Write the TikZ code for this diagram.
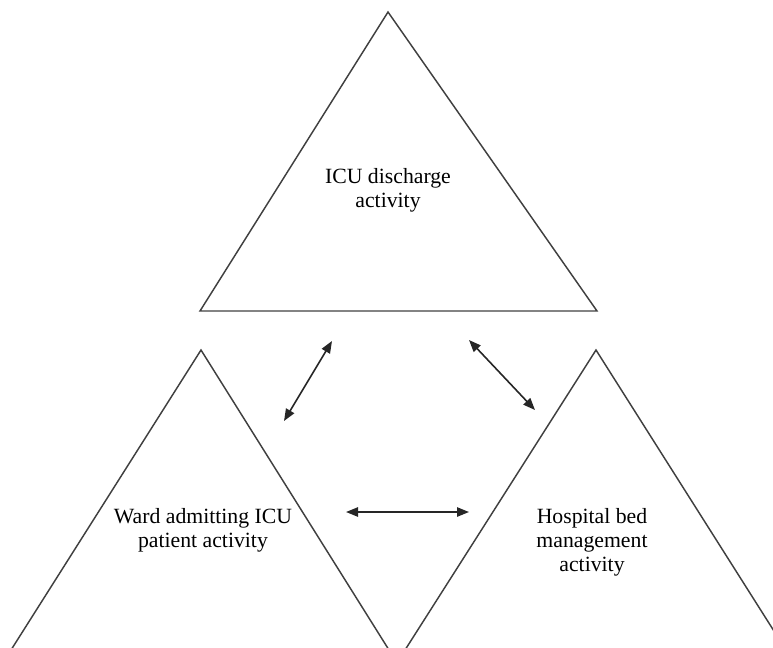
\documentclass[tikz,border=0pt]{standalone}
\usepackage{fontspec}
\setmainfont{Liberation Serif}
\usetikzlibrary{arrows.meta}
\begin{document}
\begin{tikzpicture}[x=0.75pt,y=-0.75pt,
  tri/.style={draw=black!75,line width=1.1pt,line join=miter},
  link/.style={draw=black!85,line width=1.2pt,{Triangle[length=9pt,width=7pt]}-{Triangle[length=9pt,width=7pt]}},
  lbl/.style={align=center,font=\fontsize{16.3}{18}\selectfont,text=black,inner sep=0pt}]
  \useasboundingbox (0,0) rectangle (773,647);
  \clip (0,0) rectangle (773,647);
  % three activity triangles
  \draw[tri] (388,12) -- (597,311) -- (200,311) -- cycle;
  \draw[tri] (201,350) -- (389,650) -- (11,650) -- cycle;
  \draw[tri] (596,350) -- (786,650) -- (405,650) -- cycle;
  % labels
  \node[lbl] (icu) at (388,190) {ICU discharge\\activity};
  \node[lbl] (ward) at (203,530) {Ward admitting ICU\\patient activity};
  \node[lbl] (bed) at (592,542) {Hospital bed\\management\\activity};
  % arrow end points
  \coordinate (a1) at (284,421);
  \coordinate (a2) at (332,341);
  \coordinate (b1) at (469,340);
  \coordinate (b2) at (535,410);
  \coordinate (c1) at (346,512);
  \coordinate (c2) at (469,512);
  \draw[link] (a1) -- (a2);
  \draw[link] (b1) -- (b2);
  \draw[link] (c1) -- (c2);
\end{tikzpicture}
\end{document}
